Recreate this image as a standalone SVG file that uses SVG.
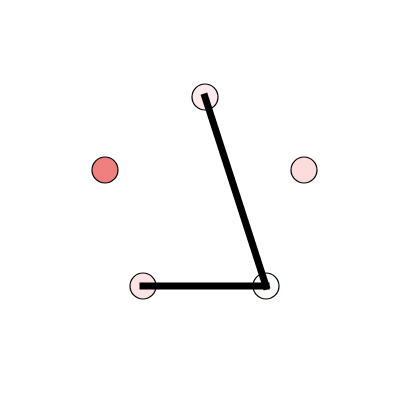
<svg xmlns="http://www.w3.org/2000/svg" width="400" height="400" viewBox="0 0 400 400">
<style>
.node{stroke:#000;stroke-width:1.2}
.edge{stroke:#000;stroke-width:7;stroke-linecap:square;fill:none}
</style>
<rect width="400" height="400" fill="#fff"/>
<g id="n0"><circle class="node" cx="205" cy="97" r="13" fill="#fdeaea"/></g>
<g id="n1"><circle class="node" cx="105" cy="170" r="13" fill="#f08080"/></g>
<g id="n2"><circle class="node" cx="304" cy="170" r="13" fill="#fcdcdc"/></g>
<g id="n3"><circle class="node" cx="143" cy="286" r="13" fill="#fde4e4"/></g>
<g id="n4"><circle class="node" cx="266" cy="286" r="13" fill="#f8fcf8"/></g>
<g id="edges">
<line class="edge" x1="205" y1="97" x2="266" y2="286"/>
<line class="edge" x1="143" y1="286" x2="266" y2="286"/>
</g>
</svg>
